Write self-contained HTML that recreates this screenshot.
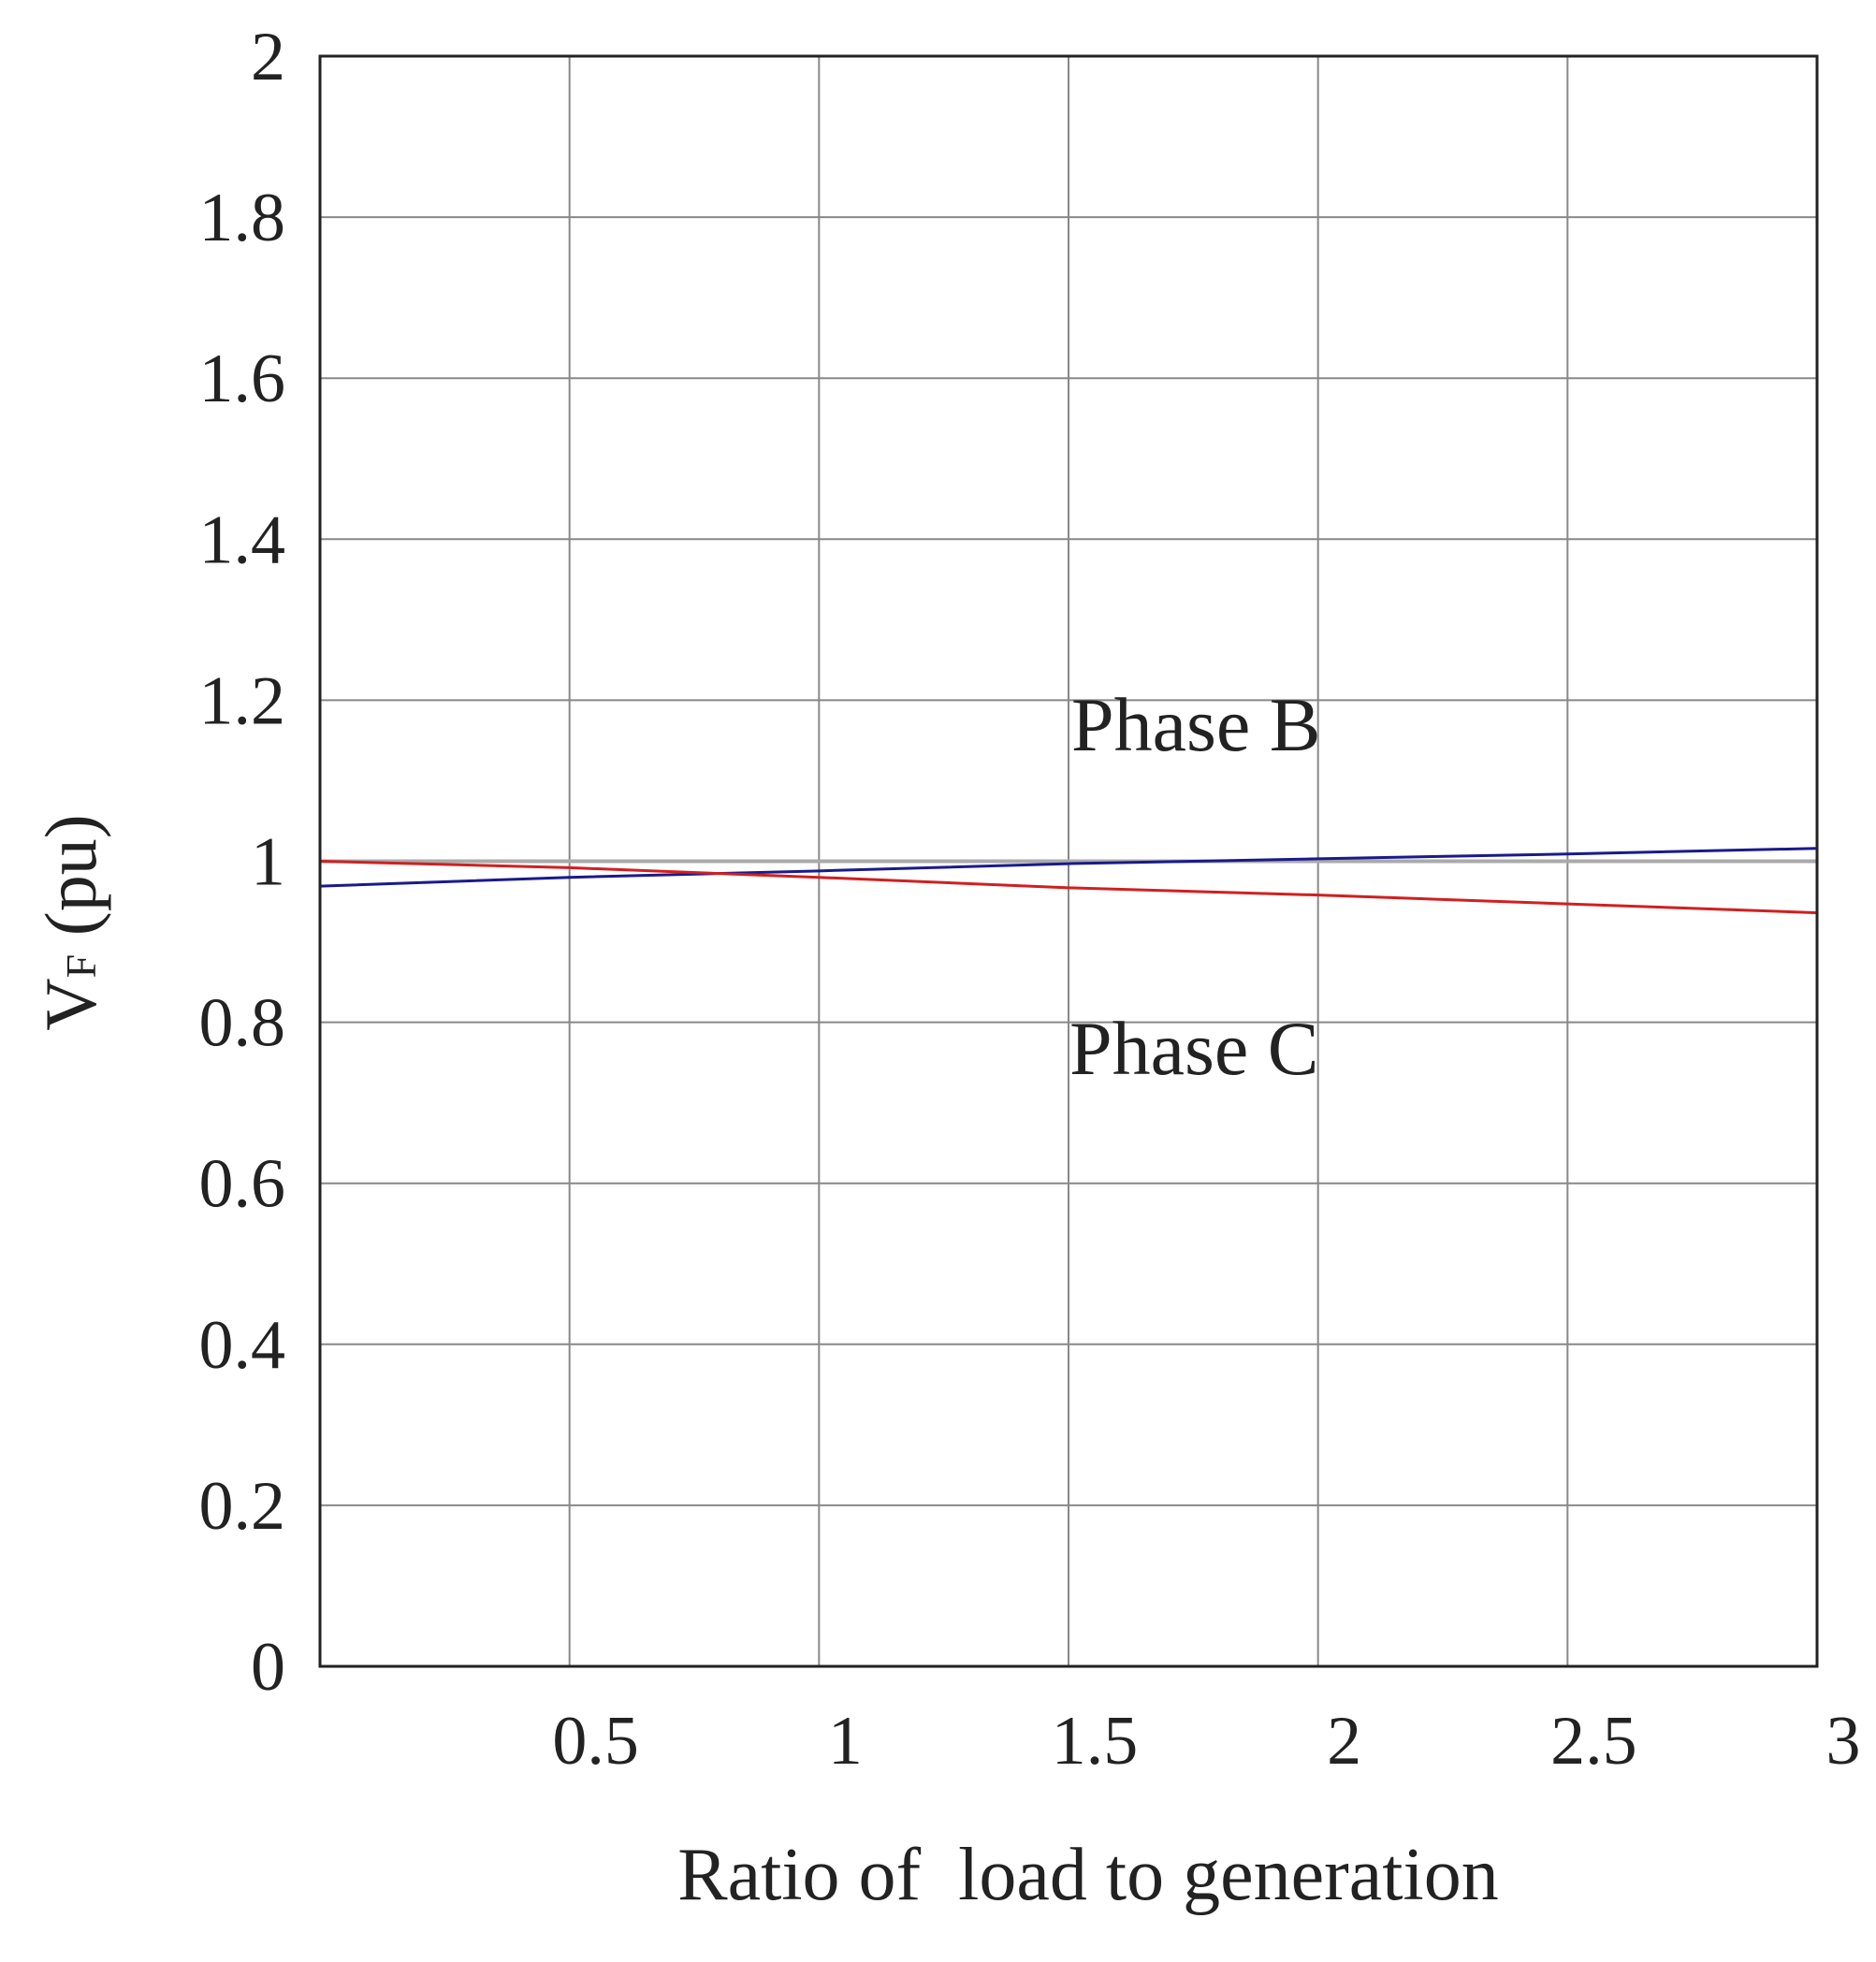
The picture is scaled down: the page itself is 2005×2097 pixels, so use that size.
<!DOCTYPE html>
<html><head><meta charset="utf-8"><style>
body{margin:0;background:#fff}
svg text{font-family:"Liberation Serif",serif;fill:#222;white-space:pre}
</style></head><body>
<svg width="2005" height="2092" viewBox="0 0 2005 2092">
<g id="grid"></g>
<g id="series"></g>
<g id="ticks"></g>
<rect x="342" y="60" width="1600" height="1721" fill="none" stroke="#222" stroke-width="3"/>
<text x="1145" y="802" font-size="82">Phase B</text>
<text x="1143" y="1148" font-size="82">Phase C</text>
<text x="1163" y="2030" font-size="80" text-anchor="middle" xml:space="preserve">Ratio of  load to generation</text>
<text transform="translate(102,986) rotate(-90)" font-size="78" text-anchor="middle">V<tspan font-size="46">F</tspan> (pu)</text>
</svg>
<script>
const xs=[0,0.5,1,1.5,2,2.5,3];
const phaseB=[0.969,0.98,0.988,0.997,1.003,1.009,1.016];
const phaseC=[1.0,0.992,0.98,0.967,0.958,0.947,0.936];
const xTicks=[0.5,1,1.5,2,2.5,3];
const xTickLabels=["0.5","1","1.5","2","2.5","3"];
const yTicks=[0,0.2,0.4,0.6,0.8,1,1.2,1.4,1.6,1.8,2];
const yTickLabels=["0","0.2","0.4","0.6","0.8","1","1.2","1.4","1.6","1.8","2"];
const NS="http://www.w3.org/2000/svg";
function X(v){return 342+v*(1600/3);}
function Y(v){return 1781-v*(1721/2);}
function mk(tag,attrs,parent){const e=document.createElementNS(NS,tag);for(const k in attrs)e.setAttribute(k,attrs[k]);document.getElementById(parent).appendChild(e);return e;}
xTicks.forEach((t,i)=>{
  const l=mk('line',{x1:X(t),x2:X(t),y1:60,y2:1781,stroke:'#888','stroke-width':2},'grid');
  
  
  const tx=mk('text',{x:X(t)+28,y:1885,'font-size':74,'text-anchor':'middle'},'ticks');
  tx.textContent=xTickLabels[i];
  
  
});
yTicks.forEach((t,i)=>{
  const l=mk('line',{x1:342,x2:1942,y1:Y(t),y2:Y(t),stroke:t===1?'#aaa':'#888','stroke-width':t===1?4:2},'grid');
  
  
  const tx=mk('text',{x:305,y:Y(t)+25,'font-size':74,'text-anchor':'end'},'ticks');
  tx.textContent=yTickLabels[i];
  
  
});
function pts(a){return xs.map((x,i)=>X(x)+','+Y(a[i])).join(' ');}
const pb=mk('polyline',{points:pts(phaseB),fill:'none',stroke:'#1a1a8c','stroke-width':3},'series');


const pc=mk('polyline',{points:pts(phaseC),fill:'none',stroke:'#d02020','stroke-width':3},'series');


</script>
</body></html>
